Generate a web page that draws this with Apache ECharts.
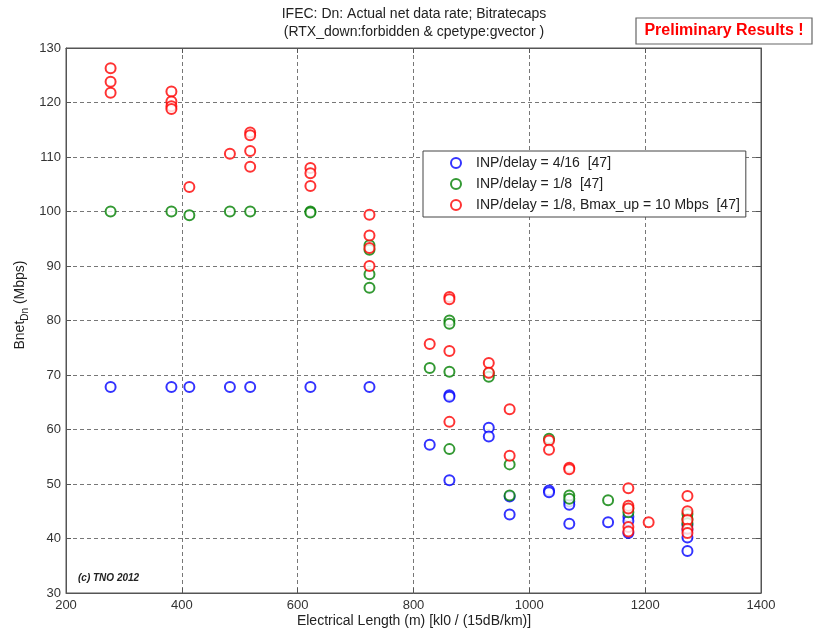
<!DOCTYPE html>
<html>
<head>
<meta charset="utf-8">
<script src="https://cdn.jsdelivr.net/npm/echarts@6/dist/echarts.min.js"></script>
<style>html,body{margin:0;padding:0;background:#fff;}#c{width:816px;height:633px;}</style>
</head>
<body>
<div id="c"></div>
<script>
const xTicks = [200, 400, 600, 800, 1000, 1200, 1400];
const yTicks = [30, 40, 50, 60, 70, 80, 90, 100, 110, 120, 130];

const seriesNames = [
  'INP/delay = 4/16  [47]',
  'INP/delay = 1/8  [47]',
  'INP/delay = 1/8, Bmax_up = 10 Mbps  [47]'
];

const blueX = [277, 382, 413, 483, 518, 622, 724, 828, 862, 862, 862, 930, 930, 966, 966, 1034, 1034, 1069, 1069, 1069, 1136, 1171, 1171, 1171, 1273, 1273, 1273, 1273];
const blueY = [67.8, 67.8, 67.8, 67.8, 67.8, 67.8, 67.8, 57.2, 66.3, 66.0, 50.7, 60.3, 58.7, 47.7, 44.4, 48.8, 48.5, 46.8, 46.2, 42.7, 43.0, 44.0, 43.2, 41.0, 42.5, 41.6, 40.2, 37.7];

const greenX = [277, 382, 413, 483, 518, 622, 622, 724, 724, 724, 724, 828, 862, 862, 862, 862, 930, 930, 966, 966, 1034, 1069, 1069, 1136, 1171, 1171, 1273, 1273, 1273];
const greenY = [100, 100, 99.3, 100, 100, 100, 99.8, 93.8, 93.0, 88.5, 86.0, 71.3, 80.0, 79.4, 70.6, 56.4, 70.3, 69.7, 53.6, 47.9, 58.3, 47.9, 47.3, 47.0, 45.6, 44.8, 44.5, 43.6, 42.8];

const redX = [277, 277, 277, 382, 382, 382, 382, 413, 483, 518, 518, 518, 518, 622, 622, 622, 724, 724, 724, 724, 828, 862, 862, 862, 862, 930, 930, 966, 966, 1034, 1034, 1069, 1069, 1171, 1171, 1171, 1171, 1171, 1206, 1273, 1273, 1273, 1273, 1273];
const redY = [126.3, 123.8, 121.8, 122.0, 120.2, 119.3, 118.8, 104.5, 110.6, 114.5, 114.0, 111.1, 108.2, 108.0, 107.0, 104.7, 99.4, 95.6, 93.3, 90.0, 75.7, 84.3, 83.9, 74.4, 61.4, 72.2, 70.4, 63.7, 55.2, 58.0, 56.3, 53.0, 52.7, 49.2, 46.0, 45.5, 42.1, 41.3, 43.0, 47.8, 45.0, 43.4, 41.8, 41.0];

const colors = ['#0000ff', '#008000', '#ff0000'];
const zip = (xs, ys) => xs.map((x, i) => [x, ys[i]]);

const FONT = 'Liberation Sans, Arial, sans-serif';
const chart = echarts.init(document.getElementById('c'));

const gridLine = { show: true, lineStyle: { color: '#777', type: [4, 3], width: 1 } };

const mkSeries = (name, data, color, z) => ({
  name, type: 'scatter', data, symbol: 'emptyCircle', symbolSize: 10, z,
  itemStyle: { color: color, borderWidth: 2 },
  emphasis: { disabled: true }, animation: false
});

chart.setOption({
  backgroundColor: '#fff',
  animation: false,
  color: colors,
  textStyle: { fontFamily: FONT },
  grid: { left: 66, right: 55, top: 48, bottom: 40, show: true, borderColor: '#555', borderWidth: 1, backgroundColor: 'transparent' },
  xAxis: [{
    type: 'value', min: xTicks[0], max: xTicks[xTicks.length - 1], interval: 200,
    axisLine: { show: true, lineStyle: { color: '#555' } },
    axisTick: { show: true, inside: true, length: 5, lineStyle: { color: '#555' } },
    axisLabel: { color: '#333', fontSize: 13, margin: 6, fontFamily: FONT, formatter: v => String(v) },
    splitLine: gridLine
  }, {
    type: 'value', position: 'top', min: xTicks[0], max: xTicks[xTicks.length - 1], interval: 200,
    axisLine: { show: true, lineStyle: { color: '#555' } },
    axisTick: { show: true, inside: true, length: 5, lineStyle: { color: '#555' } },
    axisLabel: { show: false }, splitLine: { show: false }
  }],
  yAxis: [{
    type: 'value', min: yTicks[0], max: yTicks[yTicks.length - 1], interval: 10,
    axisLine: { show: true, lineStyle: { color: '#555' } },
    axisTick: { show: true, inside: true, length: 5, lineStyle: { color: '#555' } },
    axisLabel: { color: '#333', fontSize: 13, margin: 5, fontFamily: FONT, formatter: v => String(v) },
    splitLine: gridLine
  }, {
    type: 'value', position: 'right', min: yTicks[0], max: yTicks[yTicks.length - 1], interval: 10,
    axisLine: { show: true, lineStyle: { color: '#555' } },
    axisTick: { show: true, inside: true, length: 5, lineStyle: { color: '#555' } },
    axisLabel: { show: false }, splitLine: { show: false }
  }],
  legend: {
    orient: 'vertical', left: 423, top: 151,
    data: seriesNames,
    icon: 'emptyCircle', itemWidth: 10, itemHeight: 10, itemGap: 7,
    padding: [5, 6, 5, 27],
    backgroundColor: '#fff', borderColor: '#444', borderWidth: 1,
    textStyle: { fontSize: 14, lineHeight: 14, color: '#222', fontFamily: FONT, padding: [0, 0, 0, 10] },
    itemStyle: { borderWidth: 2 },
    selectedMode: false
  },
  series: [
    mkSeries(seriesNames[0], zip(blueX, blueY), colors[0], 2),
    mkSeries(seriesNames[1], zip(greenX, greenY), colors[1], 3),
    mkSeries(seriesNames[2], zip(redX, redY), colors[2], 4)
  ],
  graphic: [
    { type: 'text', style: { text: 'IFEC: Dn: Actual net data rate; Bitratecaps', x: 414, y: 14, align: 'center', verticalAlign: 'middle', font: '14px ' + FONT, fill: '#222' } },
    { type: 'text', style: { text: '(RTX_down:forbidden & cpetype:gvector )', x: 414, y: 32, align: 'center', verticalAlign: 'middle', font: '14px ' + FONT, fill: '#222' } },
    { type: 'rect', shape: { x: 636, y: 18, width: 176, height: 26 }, style: { fill: '#fff', stroke: '#666', lineWidth: 1.2 } },
    { type: 'text', style: { text: 'Preliminary Results !', x: 724, y: 31, align: 'center', verticalAlign: 'middle', font: 'bold 16px ' + FONT, fill: '#ff0000' } },
    { type: 'text', style: { text: '(c) TNO 2012', x: 78, y: 578, verticalAlign: 'middle', font: 'italic bold 10px ' + FONT, fill: '#222' } },
    { type: 'text', style: { text: 'Electrical Length (m) [kl0 / (15dB/km)]', x: 414, y: 621, align: 'center', verticalAlign: 'middle', font: '14px ' + FONT, fill: '#222' } },
    {
      type: 'text', x: 20, y: 305, rotation: Math.PI / 2,
      style: {
        text: '{a|Bnet}{s|Dn}{a| (Mbps)}', align: 'center', verticalAlign: 'middle',
        rich: {
          a: { font: '14px ' + FONT, fill: '#222', lineHeight: 20, verticalAlign: 'middle' },
          s: { font: '10px ' + FONT, fill: '#222', lineHeight: 20, verticalAlign: 'bottom', padding: [9, 0, 0, 0] }
        }
      }
    }
  ]
});
</script>
</body>
</html>
